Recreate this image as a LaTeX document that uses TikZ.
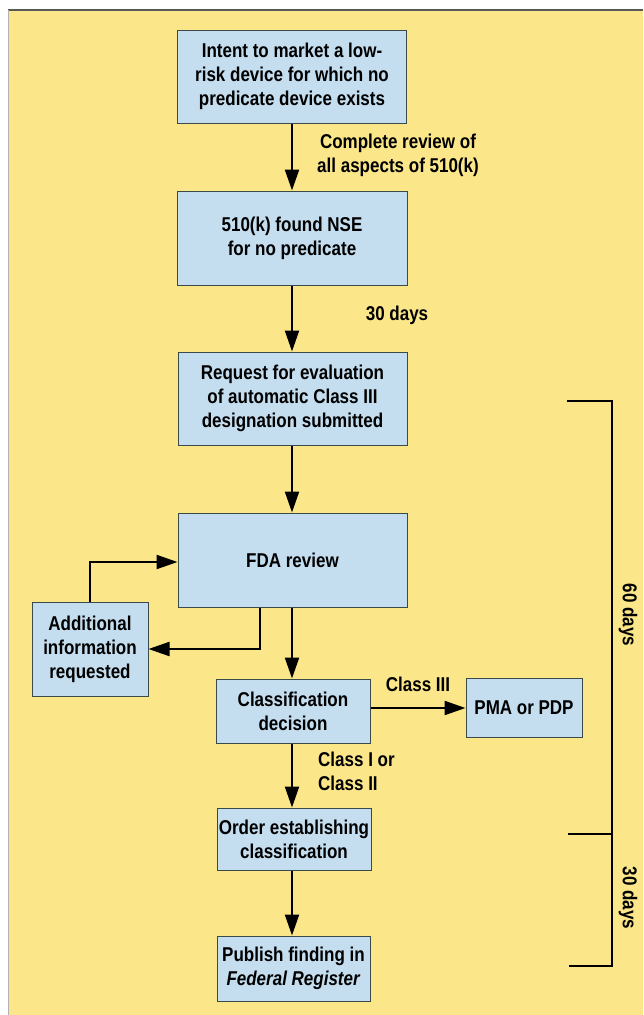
\documentclass[tikz,border=0pt]{standalone}
\usepackage{fontspec}
\setmainfont{Liberation Sans}[FakeStretch=0.85]
\usetikzlibrary{arrows.meta}
\definecolor{bgyellow}{HTML}{FBE78A}
\definecolor{boxblue}{HTML}{C4DEF0}
\definecolor{boxline}{HTML}{3A4A48}
\tikzset{
  flowbox/.style={draw=boxline, line width=1pt, fill=boxblue, align=center,
    font=\fontsize{20}{24}\selectfont\bfseries, inner sep=0pt},
  lbl/.style={font=\fontsize{20}{24}\selectfont\bfseries, inner sep=0pt},
  arr/.style={line width=2.2pt, -{Triangle[length=21pt,width=14pt]}},
  brk/.style={line width=2pt}
}
\begin{document}
\begin{tikzpicture}[x=1pt,y=-1pt]
\useasboundingbox (0,0) rectangle (643,1015);
\fill[white] (0,0) rectangle (643,1015);
\fill[bgyellow] (8,10) rectangle (643,1015);
\draw[gray!70!black, line width=1.2pt] (643,10) -- (8,10);
\draw[gray!60, line width=0.8pt] (8,10) -- (8,1015);

\node[flowbox, minimum width=229pt, minimum height=93pt] (intent) at (292,76.5)
  {Intent to market a low-\\risk device for which no\\predicate device exists};
\node[flowbox, minimum width=230pt, minimum height=94pt] (nse) at (292,238)
  {510(k) found NSE\\for no predicate};
\node[flowbox, minimum width=229pt, minimum height=93pt] (req) at (292.5,398.5)
  {Request for evaluation\\of automatic Class III\\designation submitted};
\node[flowbox, minimum width=229pt, minimum height=94pt] (fda) at (292.5,560)
  {FDA review};
\node[flowbox, minimum width=116pt, minimum height=94pt] (add) at (90,649)
  {Additional\\information\\requested};
\node[flowbox, minimum width=154pt, minimum height=64pt] (cls) at (293,711)
  {Classification\\decision};
\node[flowbox, minimum width=116pt, minimum height=59pt] (pma) at (524,708)
  {PMA or PDP};
\node[flowbox, minimum width=154pt, minimum height=62pt] (ord) at (294,839)
  {Order establishing\\classification};
\node[flowbox, minimum width=153pt, minimum height=65pt] (pub) at (293.5,968.5)
  {Publish finding in\\\textit{Federal Register}};

\draw[arr] (intent.south -| 292,0) -- (nse.north -| 292,0);
\draw[arr] (nse.south -| 292,0) -- (req.north -| 292,0);
\draw[arr] (req.south -| 292,0) -- (fda.north -| 292,0);
\draw[arr] (fda.south -| 292,0) -- (cls.north -| 292,0);
\draw[arr] (cls.south -| 292,0) -- (ord.north -| 292,0);
\draw[arr] (ord.south -| 292,0) -- (pub.north -| 292,0);
\draw[arr] (cls.east |- pma.west) -- (pma.west);
\draw[arr] (fda.south -| 260,0) |- (add.east);
\draw[arr] (add.north) |- (fda.west |- 0,562);

\node[lbl, align=center] (lrev) at (398,155.5) {Complete review of\\all aspects of 510(k)};
\node[lbl] (l30a) at (397,315) {30 days};
\node[lbl] (lc3) at (418,684) {Class III};
\node[lbl, align=left, anchor=west] (lc12) at (318,771.5) {Class I or\\Class II};

\coordinate (b1a) at (567,401);
\coordinate (b1b) at (612,401);
\coordinate (b2a) at (568,834);
\coordinate (b2b) at (612,834);
\coordinate (b3a) at (569,966);
\coordinate (b3b) at (612,966);
\draw[brk] (b1a) -- (b1b) -- (b3b) -- (b3a);
\draw[brk] (b2a) -- (b2b);
\node[lbl, rotate=-90] (l60) at (628,615) {60 days};
\node[lbl, rotate=-90] (l30b) at (628,898) {30 days};
\end{tikzpicture}
\end{document}
